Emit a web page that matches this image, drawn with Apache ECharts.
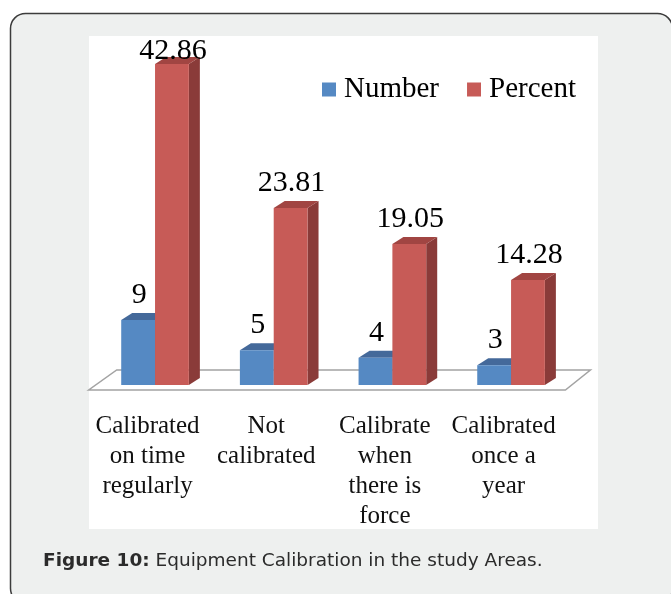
<!DOCTYPE html>
<html>
<head>
<meta charset="utf-8">
<script src="https://cdn.jsdelivr.net/npm/echarts@6/dist/echarts.min.js"></script>
<style>
  html, body { margin: 0; padding: 0; background: #fff; }
  #chart { width: 671px; height: 594px; }
</style>
</head>
<body>
<div id="chart"></div>
<script>
// chart data
var categories = ['Calibrated\non time\nregularly', 'Not\ncalibrated', 'Calibrate\nwhen\nthere is\nforce', 'Calibrated\nonce a\nyear']
var seriesNames = ['Number', 'Percent']
var numberValues = [9, 5, 4, 3]
var percentValues = [42.86, 23.81, 19.05, 14.28]
var caption = 'Equipment Calibration in the study Areas.'

var blue = { front: '#5589c3', side: '#3e6591', top: '#44699a' }
var red = { front: '#c75b57', side: '#8a3b39', top: '#a14542' }

function toData (values) {
  return values.map(function (v, i) { return [i, v] })
}

// draws one 3d-looking bar: front face, side face, top face + value label
function barRenderer (slot, colors) {
  return function (params, api) {
    var cat = api.value(0)
    var val = api.value(1)
    var base = api.coord([cat, 0])
    var top = api.coord([cat, val])
    var bw = api.size([1, 0])[0]
    var w = bw * 0.285
    var x0 = slot === 0 ? base[0] - w : base[0]
    var x1 = x0 + w
    var yb = base[1] - 3
    var yt = top[1]
    var dx = 11
    var dy = 7
    var labelY = Math.max(yt - 10, params.coordSys.y + 18)
    return {
      type: 'group',
      children: [
        { type: 'polygon', shape: { points: [[x1, yb], [x1, yt], [x1 + dx, yt - dy], [x1 + dx, yb - dy]] }, style: { fill: colors.side } },
        { type: 'polygon', shape: { points: [[x0, yt], [x1, yt], [x1 + dx, yt - dy], [x0 + dx, yt - dy]] }, style: { fill: colors.top } },
        { type: 'rect', shape: { x: x0, y: yt, width: w, height: yb - yt }, style: { fill: colors.front } },
        {
          type: 'text',
          x: (x0 + x1) / 2 + 1,
          y: labelY,
          style: {
            text: String(val),
            fill: '#000',
            font: '30px "Liberation Serif"',
            align: 'center',
            verticalAlign: 'bottom'
          }
        }
      ]
    }
  }
}

// the flat floor under the bars
function floorRenderer (params, api) {
  var c0 = api.coord([0, 0])
  var c1 = api.coord([categories.length - 1, 0])
  var bw = api.size([1, 0])[0]
  var xl = c0[0] - bw / 2
  var xr = c1[0] + bw / 2
  var y0 = c0[1]
  return {
    type: 'polygon',
    shape: { points: [[xl - 7, y0 + 2], [xr - 5, y0 + 2], [xr + 20, y0 - 18], [xl + 21, y0 - 18]] },
    style: { fill: '#fff', stroke: '#a3a3a3', lineWidth: 1.5 }
  }
}

var myChart = echarts.init(document.getElementById('chart'))

var option = {
  animation: false,
  graphic: [
    {
      type: 'rect',
      z: -20,
      shape: { x: 10.5, y: 13.5, width: 662, height: 590, r: 15 },
      style: { fill: '#eef0ef', stroke: '#3c3c3c', lineWidth: 1.5 }
    },
    {
      type: 'rect',
      z: -10,
      shape: { x: 89, y: 36, width: 509, height: 493 },
      style: { fill: '#fff' }
    }
  ],
  title: {
    text: '{b|Figure 10:} ' + caption,
    left: 43,
    top: 552,
    padding: 0,
    textStyle: {
      fontSize: 18.5,
      fontWeight: 'normal',
      fontFamily: 'DejaVu Sans',
      color: '#2b2b2b',
      rich: {
        b: { fontSize: 18.5, fontWeight: 'bold', fontFamily: 'DejaVu Sans', color: '#2b2b2b' }
      }
    }
  },
  legend: {
    data: seriesNames,
    left: 322,
    top: 74,
    padding: 0,
    icon: 'rect',
    itemWidth: 14,
    itemHeight: 14,
    itemGap: 28,
    textStyle: {
      fontSize: 29,
      fontFamily: 'Liberation Serif',
      color: '#000',
      lineHeight: 31,
      padding: [0, 0, 0, 3]
    }
  },
  grid: {
    left: 95.7,
    right: 100.6,
    top: 47.8,
    bottom: 206
  },
  xAxis: {
    type: 'category',
    data: categories,
    axisLine: { show: false },
    axisTick: { show: false },
    axisLabel: {
      interval: 0,
      margin: 23,
      fontSize: 25,
      lineHeight: 30,
      fontFamily: 'Liberation Serif',
      color: '#111',
      padding: [0, 15, 0, 0]
    }
  },
  yAxis: {
    type: 'value',
    min: 0,
    max: 45,
    show: false,
    splitLine: { show: false }
  },
  series: [
    {
      name: 'floor',
      type: 'custom',
      z: 1,
      silent: true,
      renderItem: floorRenderer,
      data: [[0, 0]]
    },
    {
      name: seriesNames[0],
      type: 'custom',
      z: 2,
      itemStyle: { color: blue.front },
      renderItem: barRenderer(0, blue),
      data: toData(numberValues)
    },
    {
      name: seriesNames[1],
      type: 'custom',
      z: 3,
      itemStyle: { color: red.front },
      renderItem: barRenderer(1, red),
      data: toData(percentValues)
    }
  ]
}

myChart.setOption(option)
</script>
</body>
</html>
